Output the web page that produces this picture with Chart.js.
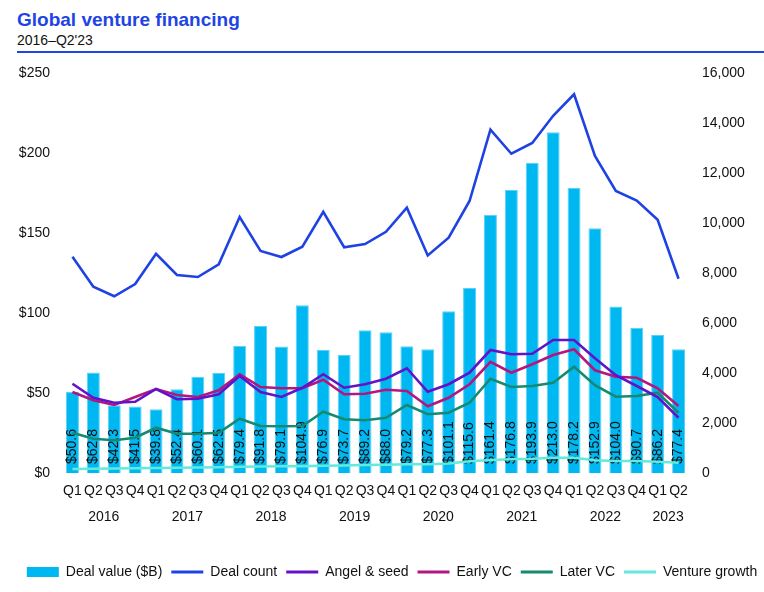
<!DOCTYPE html>
<html>
<head>
<meta charset="utf-8">
<script src="https://cdn.jsdelivr.net/npm/chart.js@4.4.0/dist/chart.umd.min.js"></script>
<style>
  body { margin: 0; background: #fff; font-family: "Liberation Sans", Arial, sans-serif; }
  #title { position: absolute; left: 17px; top: 10px; font-size: 19px; line-height: 19px; font-weight: bold; color: #1e44e5; }
  #subtitle { position: absolute; left: 17px; top: 33px; font-size: 14px; line-height: 14px; color: #111; }
  #rule { position: absolute; left: 17px; right: 0; top: 51px; height: 2px; background: #1e44e5; }
  #wrap { position: absolute; left: 0; top: 56px; width: 764px; height: 536px; }
</style>
</head>
<body>
<div id="title">Global venture financing</div>
<div id="subtitle">2016–Q2'23</div>
<div id="rule"></div>
<div id="wrap"><canvas id="venture-chart"></canvas></div>
<script>
// quarters 2016 Q1 .. 2023 Q2
var quarterLabels = ["Q1", "Q2", "Q3", "Q4", "Q1", "Q2", "Q3", "Q4", "Q1", "Q2", "Q3", "Q4", "Q1", "Q2", "Q3", "Q4",
    "Q1", "Q2", "Q3", "Q4", "Q1", "Q2", "Q3", "Q4", "Q1", "Q2", "Q3", "Q4", "Q1", "Q2"];
var yearLabels = ["2016", "2017", "2018", "2019", "2020", "2021", "2022", "2023"];
var quartersPerYear = [4, 4, 4, 4, 4, 4, 4, 2];

var dealValue = [50.6, 62.8, 42.3, 41.5, 39.8, 52.4, 60.1, 62.5, 79.4, 91.8, 79.1, 104.9, 76.9, 73.7, 89.2, 88.0,
    79.2, 77.3, 101.1, 115.6, 161.4, 176.8, 193.9, 213.0, 178.2, 152.9, 104.0, 90.7, 86.2, 77.4];
var dealCount = [8650, 7450, 7070, 7560, 8770, 7920, 7840, 8350, 10240, 8880, 8640, 9050, 10450, 9030, 9160, 9650,
    10610, 8700, 9410, 10880, 13730, 12770, 13200, 14290, 15150, 12680, 11280, 10900, 10130, 7770];
var angelSeed = [3570, 3010, 2810, 2850, 3360, 2950, 2970, 3150, 3880, 3240, 3040, 3410, 3950, 3410, 3550, 3770,
    4190, 3250, 3550, 4010, 4920, 4750, 4770, 5320, 5320, 4590, 3910, 3480, 3040, 2210];
var earlyVC = [3240, 2910, 2720, 3040, 3360, 3120, 3040, 3310, 3950, 3440, 3390, 3390, 3730, 3150, 3170, 3330,
    3280, 2670, 3010, 3550, 4450, 4010, 4350, 4720, 4950, 4110, 3850, 3810, 3390, 2680];
var laterVC = [1610, 1370, 1310, 1410, 1810, 1570, 1570, 1610, 2170, 1880, 1870, 1880, 2450, 2150, 2110, 2210,
    2720, 2350, 2410, 2810, 3770, 3440, 3480, 3610, 4250, 3510, 3050, 3080, 3210, 2410];
var ventureGrowth = [160, 170, 180, 190, 200, 210, 220, 230, 250, 260, 270, 275, 290, 300, 320, 330,
    350, 350, 380, 470, 520, 550, 570, 610, 610, 510, 480, 480, 450, 410];

var leftTicks = [0, 50, 100, 150, 200, 250];
var rightTicks = [0, 2000, 4000, 6000, 8000, 10000, 12000, 14000, 16000];

Chart.defaults.font.family = '"Liberation Sans", Arial, sans-serif';
Chart.defaults.font.size = 14;
Chart.defaults.color = '#111';

// value labels inside the bars, drawn right after the bars so lines sit on top
var barLabels = {
    id: 'barLabels',
    afterDatasetDraw: function (chart, args) {
        if (args.index !== 0) return;
        var c = chart.ctx;
        c.save();
        c.font = '14px "Liberation Sans", Arial, sans-serif';
        c.fillStyle = '#111';
        c.textAlign = 'left';
        c.textBaseline = 'middle';
        args.meta.data.forEach(function (bar, i) {
            c.save();
            c.translate(bar.x, bar.base - 9);
            c.rotate(-Math.PI / 2);
            c.fillText('$' + dealValue[i].toFixed(1), 0, 0);
            c.restore();
        });
        c.restore();
    }
};

// year labels centred under each group of quarters
var yearAxis = {
    id: 'yearAxis',
    afterDraw: function (chart) {
        var c = chart.ctx;
        var x = chart.scales.x;
        var idx = 0;
        c.save();
        c.font = '14px "Liberation Sans", Arial, sans-serif';
        c.fillStyle = '#111';
        c.textAlign = 'center';
        c.textBaseline = 'middle';
        yearLabels.forEach(function (yr, k) {
            var first = idx, last = idx + quartersPerYear[k] - 1;
            var px = (x.getPixelForValue(first) + x.getPixelForValue(last)) / 2;
            c.fillText(yr, px, chart.chartArea.bottom + 44);
            idx += quartersPerYear[k];
        });
        c.restore();
    }
};

// nudge the legend a little to the right, like the original
var legendShift = {
    id: 'legendShift',
    afterLayout: function (chart) {
        if (chart.legend) {
            chart.legend.left += 10;
            chart.legend.right += 10;
        }
    }
};

function lineSet(label, data, color) {
    return {
        type: 'line',
        label: label,
        data: data,
        yAxisID: 'y1',
        borderColor: color,
        backgroundColor: color,
        borderWidth: 2.6,
        pointRadius: 0,
        tension: 0,
        fill: false,
        order: 0
    };
}

var ctx = document.getElementById('venture-chart').getContext('2d');
var myChart = new Chart(ctx, {
    type: 'bar',
    data: {
        labels: quarterLabels,
        datasets: [
            {
                type: 'bar',
                label: 'Deal value ($B)',
                data: dealValue,
                yAxisID: 'y',
                backgroundColor: '#00b8f1',
                borderColor: '#5cd2f6',
                borderWidth: 1,
                categoryPercentage: 1,
                barPercentage: 0.62,
                order: 1
            },
            lineSet('Deal count', dealCount, '#1f43e3'),
            lineSet('Angel & seed', angelSeed, '#6212c8'),
            lineSet('Early VC', earlyVC, '#b3167f'),
            lineSet('Later VC', laterVC, '#168a70'),
            lineSet('Venture growth', ventureGrowth, '#62eadb')
        ]
    },
    options: {
        responsive: true,
        maintainAspectRatio: false,
        animation: false,
        layout: { padding: { top: 17, bottom: 3, left: 0, right: 0 } },
        plugins: {
            tooltip: { enabled: false },
            legend: {
                position: 'bottom',
                labels: {
                    usePointStyle: true,
                    pointStyleWidth: 32,
                    boxHeight: 10,
                    padding: 9,
                    color: '#111',
                    font: { size: 14 },
                    sort: function (a, b) { return a.datasetIndex - b.datasetIndex; },
                    generateLabels: function (chart) {
                        var items = Chart.defaults.plugins.legend.labels.generateLabels(chart);
                        items.forEach(function (it) {
                            if (it.datasetIndex === 0) {
                                it.pointStyle = 'rect';
                                it.lineWidth = 0;
                            } else {
                                it.pointStyle = 'line';
                                it.lineWidth = 3;
                            }
                        });
                        return items;
                    }
                }
            }
        },
        scales: {
            x: {
                grid: { display: false, drawTicks: false },
                border: { display: false },
                ticks: { autoSkip: false, maxRotation: 0, padding: 10, color: '#111' },
                afterFit: function (scale) { scale.height = 83; }
            },
            y: {
                position: 'left',
                min: 0,
                max: 250,
                grid: { display: false, drawTicks: false },
                border: { display: false },
                afterBuildTicks: function (scale) {
                    scale.ticks = leftTicks.map(function (v) { return { value: v }; });
                },
                ticks: {
                    padding: 12,
                    color: '#111',
                    callback: function (v) { return '$' + v; }
                },
                afterFit: function (scale) {
                    scale.width = 62;
                    scale.paddingTop = 8;
                    scale.paddingBottom = 8;
                }
            },
            y1: {
                position: 'right',
                min: 0,
                max: 16000,
                grid: { display: false, drawTicks: false },
                border: { display: false },
                afterBuildTicks: function (scale) {
                    scale.ticks = rightTicks.map(function (v) { return { value: v }; });
                },
                ticks: {
                    padding: 13,
                    color: '#111',
                    callback: function (v) { return v.toLocaleString('en-US'); }
                },
                afterFit: function (scale) {
                    scale.width = 75;
                    scale.paddingTop = 8;
                    scale.paddingBottom = 8;
                }
            }
        }
    },
    plugins: [barLabels, yearAxis, legendShift]
});
</script>
</body>
</html>
